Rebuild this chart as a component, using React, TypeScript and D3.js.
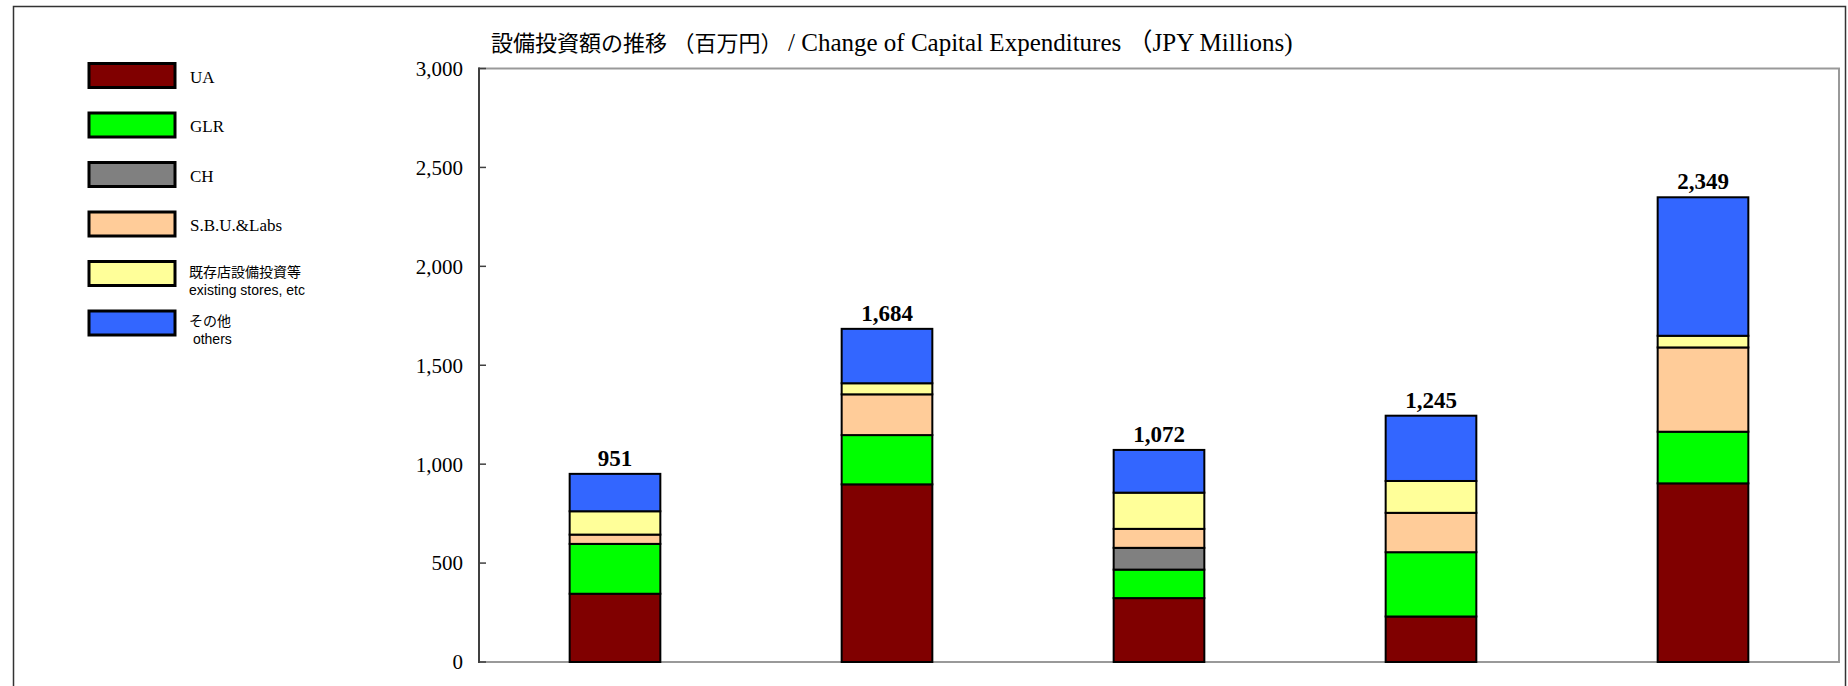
import * as d3 from "d3"
import React, { useRef, useEffect } from "react"

// x labels are cut off below the picture, so the periods are only keys here
const periods = ["P1", "P2", "P3", "P4", "P5"]

const ua = [345, 898, 323, 230, 903]
const glr = [252, 249, 144, 325, 261]
const ch = [0, 0, 110, 0, 0]
const sbu = [47, 206, 96, 199, 426]
const existing = [118, 56, 183, 161, 59]
const others = [189, 275, 216, 330, 700]
const totals = [951, 1684, 1072, 1245, 2349]

const seriesKeys = ["ua", "glr", "ch", "sbu", "existing", "others"]
const seriesNames = [
  ["UA"],
  ["GLR"],
  ["CH"],
  ["S.B.U.&Labs"],
  ["既存店設備投資等", "existing stores, etc"],
  ["その他", " others"],
]
const seriesColors = ["#800000", "#00ff00", "#808080", "#ffcc99", "#ffff99", "#3366ff"]

const yTicks = [0, 500, 1000, 1500, 2000, 2500, 3000]

const titleJa = "設備投資額の推移 （百万円） "
const titleEn = "/ Change of Capital Expenditures （JPY Millions)"

const serif = "'Liberation Serif', 'Noto Sans CJK JP', serif"
const sans = "'Liberation Sans', 'Noto Sans CJK JP', sans-serif"

function App() {
  const svgRef = useRef<SVGSVGElement>(null)

  useEffect(() => {
    const width = 1848,
      height = 686
    const left = 479,
      right = 1839,
      top = 68.5,
      bottom = 662

    const svg = d3.select(svgRef.current)
    svg.selectAll("*").remove()

    const table = periods.map((p, i) => ({
      period: p,
      ua: ua[i],
      glr: glr[i],
      ch: ch[i],
      sbu: sbu[i],
      existing: existing[i],
      others: others[i],
    }))

    const stacked = d3.stack<any>().keys(seriesKeys)(table)

    const x = d3
      .scaleBand()
      .domain(periods)
      .range([left, right])
      .paddingInner(2 / 3)
      .paddingOuter(1 / 3)

    const y = d3.scaleLinear().domain([0, 3000]).range([bottom, top])

    svg.attr("width", width).attr("height", height)

    // outer frame
    svg
      .append("rect")
      .attr("x", 13.5)
      .attr("y", 6.5)
      .attr("width", 1832)
      .attr("height", 720)
      .attr("fill", "white")
      .attr("stroke", "#333")
      .attr("stroke-width", 1.5)

    // plot area box
    svg
      .append("rect")
      .attr("x", left)
      .attr("y", top)
      .attr("width", right - left)
      .attr("height", bottom - top)
      .attr("fill", "white")
      .attr("stroke", "#999")
      .attr("stroke-width", 2)

    // title
    const t = svg
      .append("text")
      .attr("x", 491)
      .attr("y", 51)
      .attr("fill", "#000")
      .style("font-family", serif)
      .style("white-space", "pre")
    t.append("tspan").style("font-size", "22px").text(titleJa)
    t.append("tspan").style("font-size", "25px").text(titleEn)

    // bars
    stacked.forEach((layer, si) => {
      svg
        .append("g")
        .selectAll("rect")
        .data(layer.filter((d) => d[1] - d[0] > 0))
        .enter()
        .append("rect")
        .attr("x", (d) => x(d.data.period))
        .attr("width", x.bandwidth())
        .attr("y", (d) => y(d[1]))
        .attr("height", (d) => y(d[0]) - y(d[1]))
        .attr("fill", seriesColors[si])
        .attr("stroke", "#000")
        .attr("stroke-width", 2)
    })

    // totals above bars
    svg
      .append("g")
      .selectAll("text")
      .data(periods)
      .enter()
      .append("text")
      .attr("x", (p) => x(p) + x.bandwidth() / 2)
      .attr("y", (p, i) => y(totals[i]) - 8)
      .attr("text-anchor", "middle")
      .style("font-family", serif)
      .style("font-size", "23px")
      .style("font-weight", "bold")
      .text((p, i) => d3.format(",")(totals[i]))

    // y axis
    const axis = svg.append("g")
    axis
      .append("line")
      .attr("x1", left)
      .attr("x2", left)
      .attr("y1", top - 1)
      .attr("y2", bottom + 1)
      .attr("stroke", "#404040")
      .attr("stroke-width", 2)
    axis
      .selectAll(".tick")
      .data(yTicks)
      .enter()
      .append("line")
      .attr("x1", left)
      .attr("x2", left + 7)
      .attr("y1", (d) => y(d))
      .attr("y2", (d) => y(d))
      .attr("stroke", "#404040")
      .attr("stroke-width", 1.5)
    axis
      .selectAll("text")
      .data(yTicks)
      .enter()
      .append("text")
      .attr("x", left - 16)
      .attr("y", (d) => y(d))
      .attr("dy", "0.35em")
      .attr("text-anchor", "end")
      .style("font-family", serif)
      .style("font-size", "21px")
      .text((d) => d3.format(",")(d))

    // legend (top = first series)
    const legend = svg.append("g")
    seriesNames.forEach((lines, i) => {
      const ly = 63.5 + i * 49.5
      legend
        .append("rect")
        .attr("x", 89)
        .attr("y", ly)
        .attr("width", 86)
        .attr("height", 24)
        .attr("fill", seriesColors[i])
        .attr("stroke", "#000")
        .attr("stroke-width", 3)
      if (lines.length === 1) {
        legend
          .append("text")
          .attr("x", 190)
          .attr("y", ly + 19)
          .style("font-family", serif)
          .style("font-size", "17px")
          .text(lines[0])
      } else {
        legend
          .append("text")
          .attr("x", 189)
          .attr("y", ly + 15)
          .style("font-family", sans)
          .style("font-size", "14px")
          .text(lines[0])
        legend
          .append("text")
          .attr("x", 189)
          .attr("y", ly + 33)
          .style("font-family", sans)
          .style("font-size", "14px")
          .style("white-space", "pre")
          .text(lines[1])
      }
    })
  }, [])

  return (
    <svg
      ref={svgRef}
      style={{ position: "absolute", left: 0, top: 0, display: "block" }}
    ></svg>
  )
}

export default App
